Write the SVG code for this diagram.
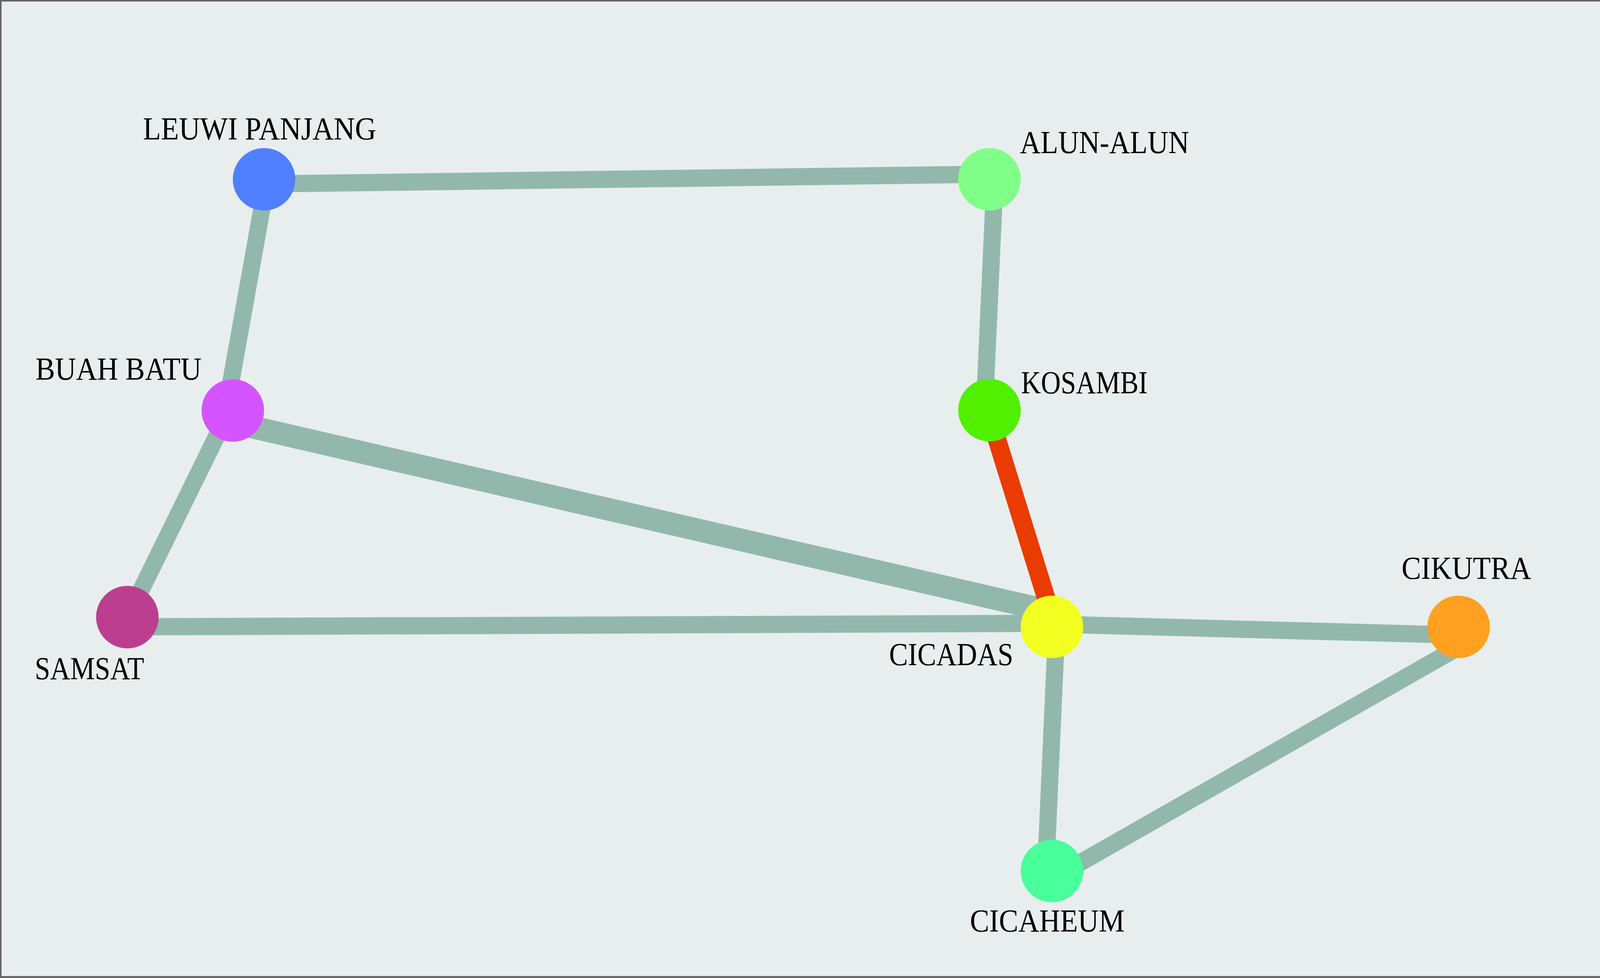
<svg xmlns="http://www.w3.org/2000/svg" width="4171" height="2504" viewBox="0 0 4171 2504">
<style>
.edge{stroke:#92b8ac;stroke-width:44;fill:none}
.thick{stroke-width:58}
.hot{stroke:#ea3b00;stroke-width:47}
.lbl{font-family:"Liberation Serif","Times New Roman",serif;font-size:82px;fill:#000;letter-spacing:0}
</style>
<rect x="0" y="0" width="4171" height="2504" fill="#666666"/>
<rect x="4" y="4" width="4162" height="2495" fill="#e8eeed"/>
<g id="connectors">
<line class="edge" x1="676" y1="471" x2="2533" y2="446"/>
<line class="edge" x1="684" y1="458" x2="578" y2="1051"/>
<line class="edge" x1="2547" y1="459" x2="2520" y2="1050"/>
<line class="edge" x1="587" y1="1051" x2="327" y2="1580"/>
<line class="edge thick" x1="596" y1="1082" x2="2693" y2="1566"/>
<line class="edge" x1="326" y1="1605" x2="2693" y2="1596"/>
<line class="edge hot" x1="2529" y1="1050" x2="2701" y2="1605"/>
<line class="edge" x1="2693" y1="1598" x2="3734" y2="1626"/>
<line class="edge" x1="2705" y1="1605" x2="2677" y2="2230"/>
<line class="edge" x1="2693" y1="2250" x2="3734" y2="1657"/>
</g>
<g id="node-leuwi-panjang">
<circle cx="676" cy="459" r="80" fill="#5080ff"/>
<text class="lbl" x="366" y="357" textLength="597" lengthAdjust="spacingAndGlyphs">LEUWI PANJANG</text>
</g>
<g id="node-alun-alun">
<circle cx="2533" cy="459" r="80" fill="#80ff88"/>
<text class="lbl" x="2611" y="392" textLength="433" lengthAdjust="spacingAndGlyphs">ALUN-ALUN</text>
</g>
<g id="node-buah-batu">
<circle cx="596" cy="1051" r="80" fill="#d455ff"/>
<text class="lbl" x="91" y="972" textLength="425" lengthAdjust="spacingAndGlyphs">BUAH BATU</text>
</g>
<g id="node-kosambi">
<circle cx="2533" cy="1050" r="80" fill="#50f000"/>
<text class="lbl" x="2614" y="1007" textLength="324" lengthAdjust="spacingAndGlyphs">KOSAMBI</text>
</g>
<g id="node-samsat">
<circle cx="326" cy="1580" r="80" fill="#bb3f8e"/>
<text class="lbl" x="89" y="1739" textLength="280" lengthAdjust="spacingAndGlyphs">SAMSAT</text>
</g>
<g id="node-cicadas">
<circle cx="2693" cy="1605" r="80" fill="#f2ff20"/>
<text class="lbl" x="2276" y="1703" textLength="318" lengthAdjust="spacingAndGlyphs">CICADAS</text>
</g>
<g id="node-cikutra">
<circle cx="3734" cy="1605" r="80" fill="#ffa020"/>
<text class="lbl" x="3588" y="1482" textLength="332" lengthAdjust="spacingAndGlyphs">CIKUTRA</text>
</g>
<g id="node-cicaheum">
<circle cx="2693" cy="2230" r="80" fill="#48ff9b"/>
<text class="lbl" x="2483" y="2385" textLength="396" lengthAdjust="spacingAndGlyphs">CICAHEUM</text>
</g>
</svg>
